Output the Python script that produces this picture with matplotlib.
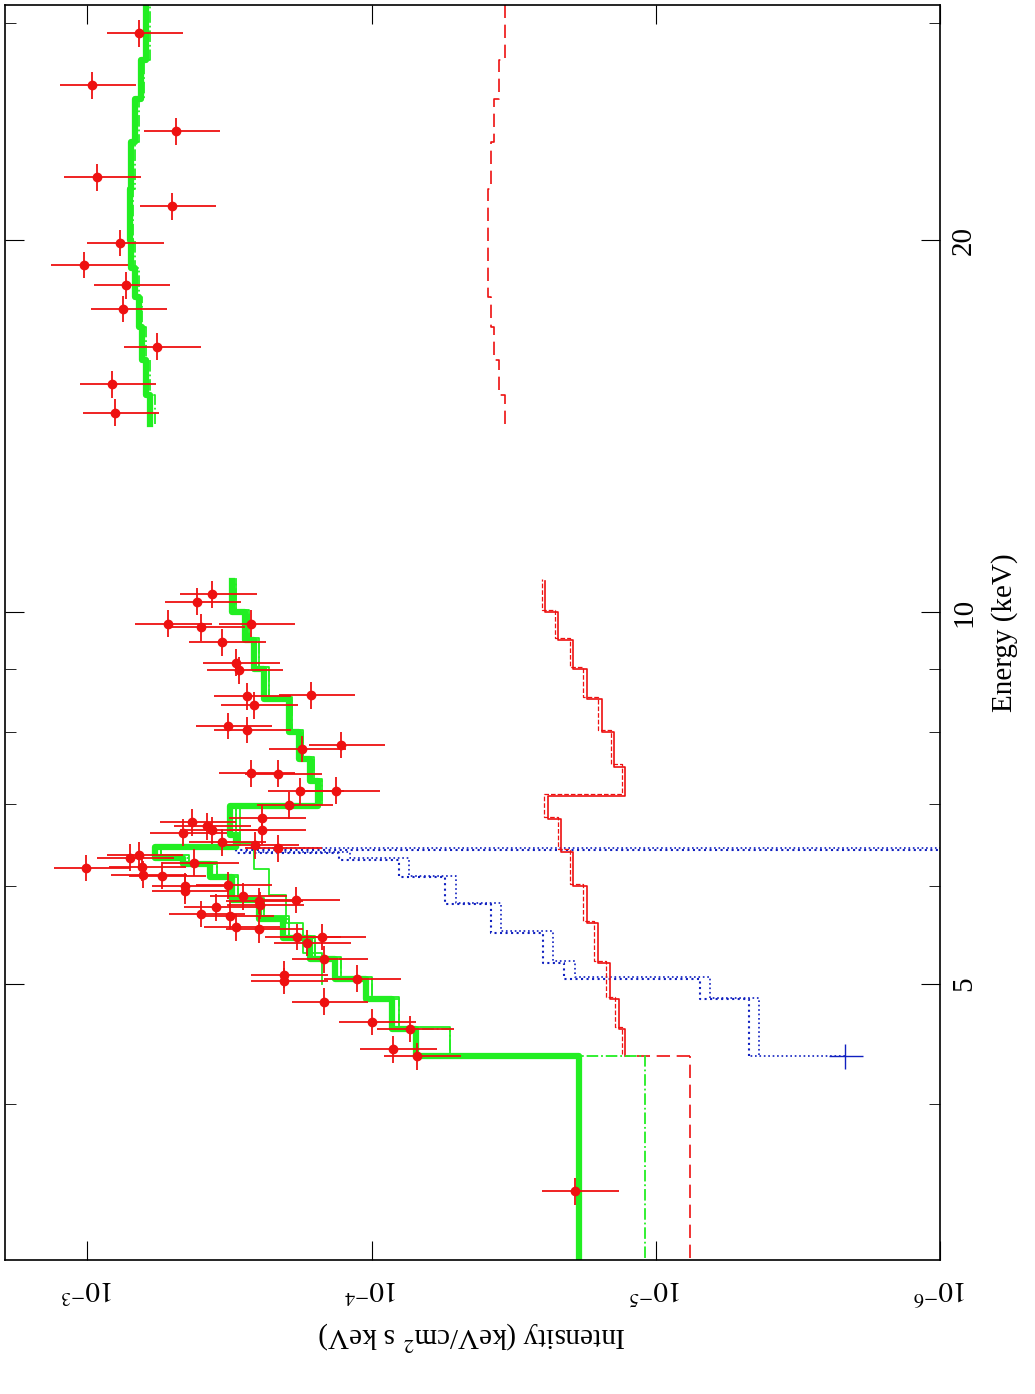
import numpy as np
import matplotlib
matplotlib.use("Agg")
import matplotlib.pyplot as plt

plt.rcParams['font.family'] = ['Liberation Serif', 'DejaVu Serif']
plt.rcParams['mathtext.fontset'] = 'stix'

# data points (energy keV, intensity)
E_data = [29.4, 26.7, 24.5, 22.5, 21.3, 19.9, 19.1, 18.4, 17.6, 16.4, 15.3, 14.5,
          10.34, 10.20, 9.79, 9.72, 9.79, 9.45, 9.10, 8.97, 8.55, 8.57, 8.41, 8.09, 8.03,
          7.81, 7.75, 7.41, 7.40, 7.16, 7.17, 6.98, 6.76, 6.71, 6.82, 6.63, 6.66, 6.66,
          6.51, 6.48, 6.44, 6.21, 6.33, 6.36, 6.22, 6.13, 6.12, 6.27, 6.00, 5.95, 6.01,
          5.89, 5.84, 5.85, 5.79, 5.77, 5.70, 5.68, 5.56, 5.54, 5.46, 5.46, 5.40, 5.24,
          5.09, 5.03, 5.05, 4.84, 4.66, 4.60, 4.43, 4.37, 3.40]
I_data = [6.56e-4, 9.6e-4, 4.86e-4, 9.29e-4, 5.02e-4, 7.71e-4, 1.03e-3, 7.30e-4, 7.47e-4,
          5.71e-4, 8.17e-4, 7.97e-4,
          3.63e-4, 4.10e-4, 5.22e-4, 3.97e-4, 2.65e-4, 3.37e-4, 3.01e-4, 2.92e-4, 2.75e-4,
          1.63e-4, 2.60e-4, 3.19e-4, 2.75e-4, 1.28e-4, 1.76e-4, 2.65e-4, 2.14e-4, 1.78e-4,
          1.33e-4, 1.95e-4, 4.27e-4, 3.81e-4, 2.44e-4, 4.62e-4, 3.63e-4, 2.44e-4, 3.37e-4,
          2.58e-4, 2.14e-4, 1.01e-3, 7.11e-4, 6.56e-4, 6.45e-4, 6.37e-4, 5.48e-4, 4.20e-4,
          4.55e-4, 4.55e-4, 3.19e-4, 2.84e-4, 2.50e-4, 1.84e-4, 2.48e-4, 3.52e-4, 3.98e-4,
          3.16e-4, 3.00e-4, 2.50e-4, 1.83e-4, 1.49e-4, 1.69e-4, 1.47e-4, 2.04e-4, 2.04e-4,
          1.13e-4, 1.47e-4, 1.00e-4, 7.34e-5, 8.43e-5, 6.95e-5, 1.93e-5]
E_err_frac = 0.025
I_err_frac = 0.30

# total model (thick green)
tot_lo_edges = [3.0, 4.37, 4.6, 4.86, 5.05, 5.24, 5.45, 5.65, 5.85, 6.1, 6.25, 6.33,
                6.45, 6.6, 6.97, 7.3, 7.6, 8.0, 8.5, 9.0, 9.5, 10.0, 10.6]
tot_lo_vals = [1.86e-5, 7.0e-5, 8.5e-5, 1.05e-4, 1.35e-4, 1.65e-4, 2.05e-4, 2.5e-4,
               3.1e-4, 3.7e-4, 4.6e-4, 5.8e-4, 3.0e-4, 3.15e-4, 1.55e-4, 1.65e-4, 1.8e-4,
               1.95e-4, 2.4e-4, 2.6e-4, 2.8e-4, 3.1e-4]
tot_hi_edges = [14.2, 15, 16, 17, 18, 19, 20, 22, 24, 26, 28, 31]
tot_hi_vals = [6.0e-4, 6.2e-4, 6.4e-4, 6.6e-4, 6.8e-4, 7.0e-4, 7.1e-4, 7.0e-4, 6.8e-4,
               6.5e-4, 6.2e-4]
# second model (thin green dash-dot)
alt_lo_vals = [1.09e-5, 5.3e-5, 8.0e-5, 1.0e-4, 1.28e-4, 1.58e-4, 1.95e-4, 2.4e-4,
               2.95e-4, 3.5e-4, 4.4e-4, 5.5e-4, 2.9e-4, 3.0e-4, 1.5e-4, 1.6e-4, 1.75e-4,
               1.9e-4, 2.3e-4, 2.5e-4, 2.7e-4, 3.0e-4]
alt_hi_vals = [5.8e-4, 6.0e-4, 6.2e-4, 6.4e-4, 6.6e-4, 6.8e-4, 6.9e-4, 6.8e-4, 6.6e-4,
               6.3e-4, 6.0e-4]
# continuum without line (thin green)
cont_edges = [5.0, 5.3, 5.6, 5.9, 6.2, 6.5, 6.97]
cont_vals = [1.5e-4, 1.75e-4, 2.0e-4, 2.3e-4, 2.6e-4, 2.9e-4]
# red component
red_a_edges = [3.0, 4.37]
red_a_vals = [7.6e-6]
red_b_edges = [4.37, 4.6, 4.86, 5.2, 5.6, 6.0, 6.4, 6.8, 7.1, 7.5, 8.0, 8.5, 9.0, 9.5, 10.0, 10.6]
red_b_vals = [1.28e-5, 1.35e-5, 1.45e-5, 1.6e-5, 1.75e-5, 1.95e-5, 2.15e-5, 2.4e-5,
              1.28e-5, 1.4e-5, 1.55e-5, 1.75e-5, 1.95e-5, 2.2e-5, 2.45e-5]
red_hi_edges = [14.2, 15, 16, 17, 18, 20, 22, 24, 26, 28, 31]
red_hi_vals = [3.4e-5, 3.55e-5, 3.7e-5, 3.8e-5, 3.9e-5, 3.9e-5, 3.8e-5, 3.7e-5, 3.55e-5, 3.4e-5]
# blue component
blue_edges = [4.37, 4.86, 5.05, 5.2, 5.5, 5.8, 6.1, 6.3, 6.38, 6.42, 6.5]
blue_vals = [4.7e-6, 7e-6, 2.1e-5, 2.5e-5, 3.8e-5, 5.5e-5, 8.0e-5, 1.3e-4, 3.0e-4, 1e-7]
blue_pt_E = [4.37]
blue_pt_I = [2.16e-6]


def step(ax, edges, vals, **kw):
    e = np.asarray(edges, float)
    v = np.asarray(vals, float)
    y = np.repeat(e, 2)[1:-1]
    x = np.repeat(v, 2)
    ax.plot(x, y, **kw)


fig = plt.figure(figsize=(10.35, 13.94), dpi=100)
ax = fig.add_axes([5/1035, 134/1394, 935/1035, 1255/1394])
ax.set_xscale('log')
ax.set_yscale('log')

E = np.array(E_data)
I = np.array(I_data)
ax.errorbar(I, E, xerr=I * I_err_frac, yerr=E * E_err_frac, fmt='o', color='#ee1111',
            ms=6, elinewidth=1.3, capsize=0, zorder=3)

step(ax, blue_edges, blue_vals, color='#1020c0', lw=1.5, ls=':')
step(ax, [e * 1.003 for e in blue_edges], [v * 0.92 for v in blue_vals], color='#1020c0', lw=1.2, ls=':')
ax.plot([blue_pt_I[0], blue_vals[0]], [blue_pt_E[0]] * 2, color='#1020c0', lw=1.2, ls=':')
ax.errorbar(blue_pt_I, blue_pt_E, xerr=[[0.3e-6], [0.3e-6]], yerr=[[0.1], [0.1]],
            color='#1020c0', lw=1, fmt='none')

step(ax, red_a_edges, red_a_vals, color='#ee1111', lw=1.2, ls=(0, (8, 4)))
ax.plot([red_a_vals[0], red_b_vals[0]], [red_a_edges[1]] * 2, color='#ee1111', lw=1.2, ls=(0, (8, 4)))
step(ax, red_b_edges, red_b_vals, color='#ee1111', lw=1.2)
step(ax, [e * 1.004 for e in red_b_edges], [v * 1.03 for v in red_b_vals], color='#ee1111', lw=0.9, ls='--')
step(ax, red_hi_edges, red_hi_vals, color='#ee1111', lw=1.2, ls=(0, (8, 4)))

step(ax, tot_lo_edges, alt_lo_vals, color='#22ee22', lw=1.3, ls='-.')
step(ax, tot_hi_edges, alt_hi_vals, color='#22ee22', lw=1.3, ls='-.')
step(ax, [e * 1.004 for e in tot_lo_edges][1:], alt_lo_vals[1:], color='#22ee22', lw=1.3)
step(ax, cont_edges, cont_vals, color='#22ee22', lw=1.3)
step(ax, tot_lo_edges, tot_lo_vals, color='#22ee22', lw=4.5)
step(ax, tot_hi_edges, tot_hi_vals, color='#22ee22', lw=4.5)

ax.set_xlim(10**-2.71, 1e-6)
ax.set_ylim(2.99, 31)

ax.set_xticks([1e-6, 1e-5, 1e-4, 1e-3])
ax.set_xticklabels([r'$10^{-6}$', r'$10^{-5}$', r'$10^{-4}$', r'$10^{-3}$'])
ax.xaxis.set_minor_locator(matplotlib.ticker.NullLocator())
ax.set_yticks([5, 10, 20])
ax.set_yticklabels(['5', '10', '20'])
ax.set_yticks([4, 6, 7, 8, 9, 30], minor=True)
ax.yaxis.set_minor_formatter(matplotlib.ticker.NullFormatter())
ax.yaxis.tick_right()
ax.tick_params(axis='both', which='both', direction='in', top=True, bottom=True,
               left=True, right=True, labelsize=21)
ax.tick_params(axis='both', which='major', length=14)
ax.tick_params(axis='both', which='minor', length=8)
ax.tick_params(axis='x', labelrotation=180, pad=10)
ax.tick_params(axis='y', labelrotation=90, pad=8)
for t in ax.get_yticklabels():
    t.set_va('center')

ax.set_xlabel('Intensity (keV/cm$^2$ s keV)', rotation=180, fontsize=21, labelpad=12)
ax.yaxis.set_label_position('right')
ax.set_ylabel('Energy (keV)', rotation=90, fontsize=21, labelpad=10)
for s in ax.spines.values():
    s.set_linewidth(1.2)

fig.savefig('out.png', dpi=100)
